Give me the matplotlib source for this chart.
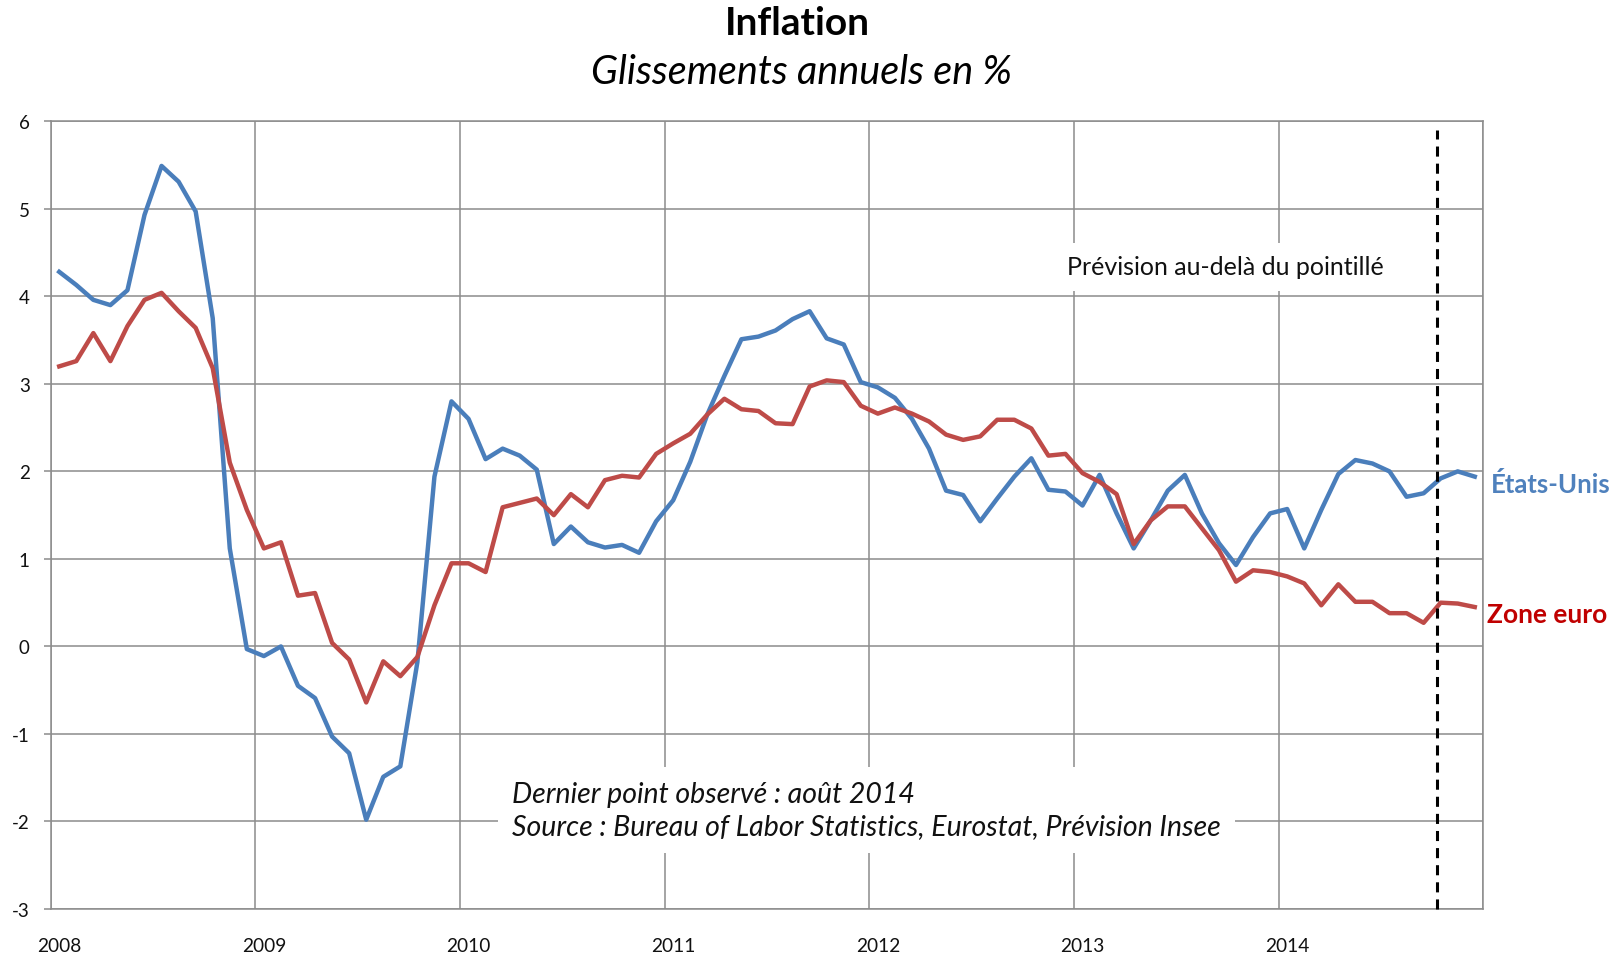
import numpy as np
import matplotlib
matplotlib.use("Agg")
import matplotlib.pyplot as plt

plt.rcParams['font.family'] = ['Lato', 'DejaVu Sans']

years = ['2008', '2009', '2010', '2011', '2012', '2013', '2014']

us_cpi = [
    4.28, 4.13, 3.96, 3.90, 4.07, 4.93, 5.49, 5.31, 4.97, 3.75, 1.12, -0.03,
    -0.11, 0.00, -0.45, -0.59, -1.03, -1.22, -1.98, -1.49, -1.37, -0.18, 1.94, 2.80,
    2.60, 2.14, 2.26, 2.18, 2.02, 1.17, 1.37, 1.19, 1.13, 1.16, 1.07, 1.43,
    1.67, 2.11, 2.65, 3.09, 3.51, 3.54, 3.61, 3.74, 3.83, 3.52, 3.45, 3.02,
    2.96, 2.84, 2.60, 2.26, 1.78, 1.73, 1.43, 1.69, 1.94, 2.15, 1.79, 1.77,
    1.61, 1.96, 1.52, 1.12, 1.44, 1.78, 1.96, 1.52, 1.18, 0.93, 1.25, 1.52,
    1.57, 1.12, 1.56, 1.97, 2.13, 2.09, 2.00, 1.71, 1.75, 1.92, 2.00, 1.94,
]

ez_hicp = [
    3.20, 3.26, 3.58, 3.26, 3.66, 3.96, 4.04, 3.83, 3.64, 3.18, 2.10, 1.56,
    1.12, 1.19, 0.58, 0.61, 0.04, -0.15, -0.64, -0.17, -0.34, -0.12, 0.47, 0.95,
    0.95, 0.85, 1.59, 1.64, 1.69, 1.50, 1.74, 1.59, 1.90, 1.95, 1.93, 2.20,
    2.32, 2.43, 2.65, 2.83, 2.71, 2.69, 2.55, 2.54, 2.97, 3.04, 3.02, 2.75,
    2.66, 2.73, 2.66, 2.57, 2.42, 2.36, 2.40, 2.59, 2.59, 2.49, 2.18, 2.20,
    1.98, 1.88, 1.74, 1.17, 1.44, 1.60, 1.60, 1.35, 1.10, 0.74, 0.87, 0.85,
    0.80, 0.72, 0.47, 0.71, 0.51, 0.51, 0.38, 0.38, 0.27, 0.50, 0.49, 0.45,
]

forecast_start = 80.8  # position of the dotted separator (month index)

W, H = 1617, 954
fig = plt.figure(figsize=(W / 100, H / 100), dpi=100)
left, right, top, bottom = 50.7, 1483.3, 122.3, 910.0
ax = fig.add_axes([left / W, 1 - bottom / H, (right - left) / W, (bottom - top) / H])

n = len(us_cpi)
x = np.arange(n)
grid_c = '#8C8C8C'

ax.plot(x, us_cpi, color='#4A7EBB', lw=3.2, zorder=4, solid_joinstyle='round')
ax.plot(x, ez_hicp, color='#BE4B48', lw=3.2, zorder=4, solid_joinstyle='round')

ax.set_xlim(-0.5, n - 0.5)
ax.set_ylim(-3, 6)
ax.set_yticks(np.arange(-3, 7))
ax.set_yticklabels([str(v) for v in range(-3, 7)])
ax.set_xticks(np.arange(0, n, 12))
ax.set_xticklabels(years)
ax.set_xticks(np.arange(-0.5, n, 12), minor=True)

ax.set_axisbelow(True)
ax.grid(which='minor', axis='x', color=grid_c, lw=1.1)
ax.grid(which='major', axis='y', color=grid_c, lw=1.1)
ax.grid(which='major', axis='x', visible=False)

ax.tick_params(axis='y', which='major', length=5, width=1.1, color=grid_c,
               pad=10, labelsize=13.5, labelcolor='#111111')
ax.tick_params(axis='x', which='both', length=0, pad=20, labelsize=13.8,
               labelcolor='#111111')
for s in ax.spines.values():
    s.set_color(grid_c)
    s.set_linewidth(1.1)

ax.plot([forecast_start, forecast_start], [-3, 5.9], color='black', lw=2.2,
        dashes=(3.3, 2.3), zorder=5, clip_on=False)

ax.text(83.95, 1.86, 'États-Unis', color='#4F81BD', fontsize=18.5,
        fontweight='bold', ha='left', va='center', clip_on=False)
ax.text(83.7, 0.37, 'Zone euro', color='#C00000', fontsize=19,
        fontweight='bold', ha='left', va='center', clip_on=False)

fig.text(797 / W, 1 - 35 / H, 'Inflation', ha='center', va='baseline',
         fontsize=28, fontweight='bold', color='black')
fig.text(801 / W, 1 - 84 / H, 'Glissements annuels en %', ha='center',
         va='baseline', fontsize=28.5, fontstyle='italic', color='black')

fig.text(1067 / W, 1 - 275 / H, 'Prévision au-delà du pointillé', ha='left',
         va='baseline', fontsize=18, color='#111111', zorder=3,
         bbox=dict(boxstyle='square,pad=0.5', fc='white', ec='none'))

fig.text(512 / W, 1 - 811 / H,
         'Dernier point observé : août 2014\nSource : Bureau of Labor Statistics, Eurostat, Prévision Insee',
         ha='left', va='center', fontsize=20.5, fontstyle='italic', color='#111111',
         linespacing=1.3, zorder=3,
         bbox=dict(boxstyle='square,pad=0.5', fc='white', ec='none'))

fig.savefig('out.png', dpi=100, facecolor='white')
